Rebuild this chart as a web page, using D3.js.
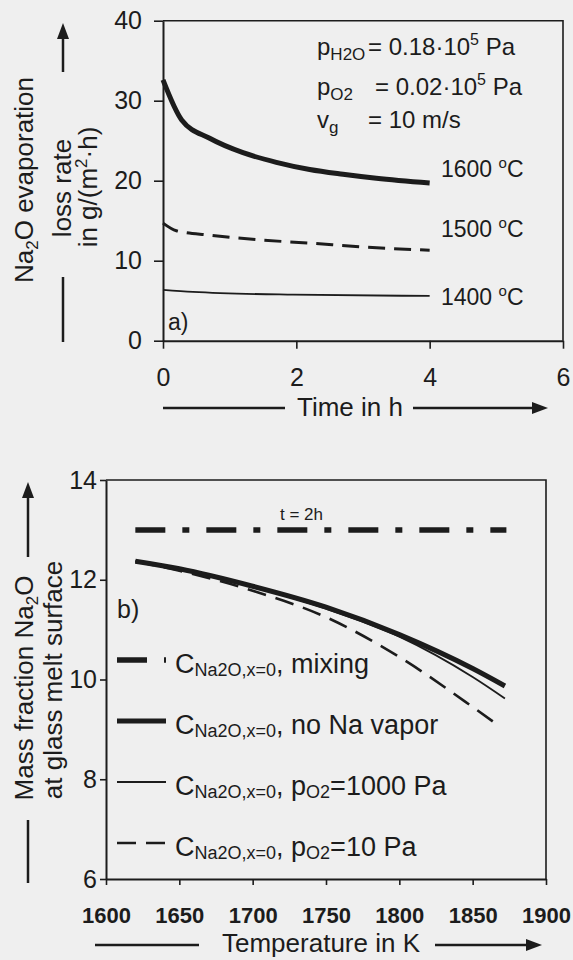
<!DOCTYPE html>
<html>
<head>
<meta charset="utf-8">
<script src="https://cdn.jsdelivr.net/npm/d3@7"></script>
<style>
  body { margin: 0; background: #efefef; }
  svg { display: block; font-family: "Liberation Sans", Arial, sans-serif; }
  .ink { fill: #1c1c1c; }
</style>
</head>
<body>
<svg id="chart" width="573" height="960"></svg>
<script>
// ---- panel a) data : Na2O evaporation loss rate vs time ----
var time1600 = [0, 0.28, 0.7, 1.2, 1.7, 2.2, 2.7, 3.2, 4.0];
var rate1600 = [32.6, 27.6, 25.3, 23.5, 22.3, 21.4, 20.8, 20.3, 19.7];
var time1500 = [0, 0.2, 0.7, 1.45, 2.2, 2.95, 4.0];
var rate1500 = [14.7, 13.75, 13.2, 12.6, 12.2, 11.75, 11.3];
var time1400 = [0, 0.45, 1.95, 4.0];
var rate1400 = [6.35, 6.1, 5.75, 5.6];
var timeTicks = [0, 2, 4, 6];
var rateTicks = [0, 10, 20, 30, 40];
var tempLabels = ["1600", "1500", "1400"];

// ---- panel b) data : mass fraction Na2O vs temperature ----
var tempsB = [1620, 1650, 1700, 1750, 1800, 1850, 1872];
var tempsB10 = [1620, 1650, 1700, 1750, 1800, 1850, 1868];
var tempsMix = [1620, 1873];
var mixing = [13, 13];
var noNaVapor = [12.37, 12.22, 11.87, 11.45, 10.9, 10.22, 9.87];
var pO2_1000 = [12.37, 12.22, 11.86, 11.42, 10.86, 10.05, 9.62];
var pO2_10 = [12.37, 12.18, 11.78, 11.25, 10.45, 9.45, 9.07];
var tempTicks = [1600, 1650, 1700, 1750, 1800, 1850, 1900];
var fracTicks = [6, 8, 10, 12, 14];
var legendNames = ["mixing", "no Na vapor", "pO2=1000", "pO2=10"];

var ink = "#1c1c1c";
var svg = d3.select("#chart");
svg.append("rect").attr("width", 573).attr("height", 960).attr("fill", "#efefef");

var styles = {
	"mixing": { width: 5.5, dash: "30,17,7,17" },
	"no Na vapor": { width: 5, dash: null },
	"pO2=1000": { width: 1.8, dash: null },
	"pO2=10": { width: 2.6, dash: "19,10" }
};

// ================= panel a =================
var xA = d3.scaleLinear().domain([0, 6]).range([163, 563]);
var yA = d3.scaleLinear().domain([0, 40]).range([340.7, 20.7]);

draw_frame(xA, yA);

svg.append("g")
	.attr("transform", "translate(0," + yA(0) + ")")
	.call(d3.axisBottom(xA).tickValues(timeTicks).tickFormat(d3.format("d")).tickSize(8).tickSizeOuter(0).tickPadding(20))
	.call(style_axis, 25, "normal");

svg.append("g")
	.attr("transform", "translate(" + xA(0) + ",0)")
	.call(d3.axisLeft(yA).tickValues(rateTicks).tickFormat(d3.format("d")).tickSize(9).tickSizeOuter(0).tickPadding(12))
	.call(style_axis, 25, "normal");

var lineA = d3.line().x(function(d) { return xA(d[0]); }).y(function(d) { return yA(d[1]); }).curve(d3.curveMonotoneX);

draw_curve(lineA, d3.zip(time1400, rate1400), 1.8, null);
draw_curve(lineA, d3.zip(time1500, rate1500), 3, "17,9");
draw_curve(lineA, d3.zip(time1600, rate1600), 5, null);

// temperature labels next to the curve ends
var labelY = [177, 237, 305];
tempLabels.forEach(function(t, i) {
	var txt = svg.append("text").attr("class", "ink").attr("x", 441).attr("y", labelY[i]).attr("font-size", 23);
	txt.append("tspan").text(t + " ");
	txt.append("tspan").attr("font-size", 15).attr("dy", -9).text("o");
	txt.append("tspan").attr("dy", 9).text("C");
});

// condition annotation
add_sub_text(317, 55, "p", "H2O", 24, 17);
add_sup_text(368, 55, "= 0.18·10", "5", " Pa", 24);
add_sub_text(317, 95, "p", "O2", 24, 17);
add_sup_text(375, 95, "= 0.02·10", "5", " Pa", 24);
add_sub_text(317, 128, "v", "g", 24, 17);
svg.append("text").attr("class", "ink").attr("x", 368).attr("y", 128).attr("font-size", 24).text("= 10 m/s");

svg.append("text").attr("class", "ink").attr("x", 168).attr("y", 330).attr("font-size", 23).text("a)");

// y title a
var ta = svg.append("text").attr("class", "ink").attr("font-size", 26).attr("text-anchor", "middle")
	.attr("transform", "translate(33,180) rotate(-90)");
ta.append("tspan").text("Na");
ta.append("tspan").attr("font-size", 17).attr("dy", 5).text("2");
ta.append("tspan").attr("dy", -5).text("O evaporation");
svg.append("text").attr("class", "ink").attr("font-size", 26).attr("text-anchor", "middle")
	.attr("transform", "translate(71,188) rotate(-90)").text("loss rate");
var tb = svg.append("text").attr("class", "ink").attr("font-size", 26).attr("text-anchor", "middle")
	.attr("transform", "translate(97,187) rotate(-90)");
tb.append("tspan").text("in g/(m");
tb.append("tspan").attr("font-size", 17).attr("dy", -10).text("2");
tb.append("tspan").attr("dy", 10).text("·h)");
v_arrow(63, 72, 23);
svg.append("line").attr("x1", 63).attr("x2", 63).attr("y1", 277).attr("y2", 342).attr("stroke", ink).attr("stroke-width", 2.5);

// x title a
svg.append("line").attr("x1", 163).attr("x2", 285).attr("y1", 408).attr("y2", 408).attr("stroke", ink).attr("stroke-width", 2.5);
svg.append("text").attr("class", "ink").attr("x", 350).attr("y", 416).attr("font-size", 26).attr("text-anchor", "middle").text("Time in h");
h_arrow(413, 548, 408);

// ================= panel b =================
var xB = d3.scaleLinear().domain([1600, 1900]).range([106, 546]);
var yB = d3.scaleLinear().domain([6, 14]).range([879, 480]);

draw_frame(xB, yB);

svg.append("g")
	.attr("transform", "translate(0," + yB(6) + ")")
	.call(d3.axisBottom(xB).tickValues(tempTicks).tickFormat(d3.format("d")).tickSize(6).tickSizeOuter(0).tickPadding(22))
	.call(style_axis, 22, "bold");

svg.append("g")
	.attr("transform", "translate(" + xB(1600) + ",0)")
	.call(d3.axisLeft(yB).tickValues(fracTicks).tickFormat(d3.format("d")).tickSize(6).tickSizeOuter(0).tickPadding(3))
	.call(style_axis, 25, "normal");

var lineB = d3.line().x(function(d) { return xB(d[0]); }).y(function(d) { return yB(d[1]); }).curve(d3.curveMonotoneX);

draw_curve(lineB, d3.zip(tempsB10, pO2_10), styles["pO2=10"].width, styles["pO2=10"].dash);
draw_curve(lineB, d3.zip(tempsB, pO2_1000), styles["pO2=1000"].width, null);
draw_curve(lineB, d3.zip(tempsB, noNaVapor), styles["no Na vapor"].width, null);
draw_curve(lineB, d3.zip(tempsMix, mixing), styles["mixing"].width, styles["mixing"].dash);

svg.append("text").attr("class", "ink").attr("x", 280).attr("y", 520).attr("font-size", 17).text("t = 2h");
svg.append("text").attr("class", "ink").attr("x", 117).attr("y", 618).attr("font-size", 25).text("b)");

// legend
legendNames.forEach(function(name, i) {
	var ly = 660 + i * 61;
	var st = styles[name];
	svg.append("line").attr("x1", 117).attr("x2", 166).attr("y1", ly).attr("y2", ly)
		.attr("stroke", ink).attr("stroke-width", st.width)
		.attr("stroke-dasharray", st.dash);
	var txt = svg.append("text").attr("class", "ink").attr("x", 175).attr("y", ly + 13).attr("font-size", 27);
	txt.append("tspan").text("C");
	txt.append("tspan").attr("font-size", 18).attr("dy", 3).text("Na2O,x=0");
	txt.append("tspan").attr("dy", -3).text(", ");
	if (name.indexOf("pO2") === 0) {
		txt.append("tspan").text("p");
		txt.append("tspan").attr("font-size", 18).attr("dy", 3).text("O2");
		txt.append("tspan").attr("dy", -3).text("=" + name.split("=")[1] + " Pa");
	} else {
		txt.append("tspan").text(name);
	}
});

// y title b
var tc = svg.append("text").attr("class", "ink").attr("font-size", 26).attr("text-anchor", "middle")
	.attr("transform", "translate(33,688) rotate(-90)");
tc.append("tspan").text("Mass fraction  Na");
tc.append("tspan").attr("font-size", 17).attr("dy", 5).text("2");
tc.append("tspan").attr("dy", -5).text("O");
svg.append("text").attr("class", "ink").attr("font-size", 26).attr("text-anchor", "middle")
	.attr("transform", "translate(62,680) rotate(-90)").text("at glass melt surface");
v_arrow(28, 557, 482);
svg.append("line").attr("x1", 28).attr("x2", 28).attr("y1", 820).attr("y2", 883).attr("stroke", ink).attr("stroke-width", 2.5);

// x title b
svg.append("line").attr("x1", 95).attr("x2", 199).attr("y1", 945).attr("y2", 945).attr("stroke", ink).attr("stroke-width", 2.5);
svg.append("text").attr("class", "ink").attr("x", 321).attr("y", 952).attr("font-size", 26).attr("text-anchor", "middle").text("Temperature in K");
h_arrow(435, 542, 945);

// ---------- helpers ----------
function draw_frame(x, y) {
	var x0 = x.range()[0], x1 = x.range()[1], y0 = y.range()[0], y1 = y.range()[1];
	svg.append("path")
		.attr("d", "M" + x0 + "," + y1 + "H" + x1 + "V" + y0)
		.attr("fill", "none").attr("stroke", ink).attr("stroke-width", 1.6);
}

function style_axis(g, size, weight) {
	g.select(".domain").attr("stroke", ink).attr("stroke-width", 2);
	g.selectAll(".tick line").attr("stroke", ink).attr("stroke-width", 1.6);
	g.selectAll(".tick text")
		.attr("fill", ink)
		.attr("font-size", size)
		.attr("font-weight", weight)
		.attr("font-family", "Liberation Sans, Arial, sans-serif");
}

function draw_curve(line, pts, width, dash) {
	svg.append("path")
		.attr("d", line(pts))
		.attr("fill", "none")
		.attr("stroke", ink)
		.attr("stroke-width", width)
		.attr("stroke-dasharray", dash);
}

function add_sub_text(x, y, main, sub, size, subSize) {
	var t = svg.append("text").attr("class", "ink").attr("x", x).attr("y", y).attr("font-size", size);
	t.append("tspan").text(main);
	t.append("tspan").attr("font-size", subSize).attr("dy", 5).text(sub);
}

function add_sup_text(x, y, main, sup, rest, size) {
	var t = svg.append("text").attr("class", "ink").attr("x", x).attr("y", y).attr("font-size", size);
	t.append("tspan").text(main);
	t.append("tspan").attr("font-size", 16).attr("dy", -10).text(sup);
	t.append("tspan").attr("dy", 10).text(rest);
}

function v_arrow(x, yFrom, yTip) {
	svg.append("line").attr("x1", x).attr("x2", x).attr("y1", yFrom).attr("y2", yTip + 12)
		.attr("stroke", ink).attr("stroke-width", 2.5);
	svg.append("path").attr("d", "M" + x + "," + yTip + "L" + (x - 6) + "," + (yTip + 16) + "L" + (x + 6) + "," + (yTip + 16) + "Z")
		.attr("fill", ink);
}

function h_arrow(xFrom, xTip, y) {
	svg.append("line").attr("x1", xFrom).attr("x2", xTip - 12).attr("y1", y).attr("y2", y)
		.attr("stroke", ink).attr("stroke-width", 2.5);
	svg.append("path").attr("d", "M" + xTip + "," + y + "L" + (xTip - 16) + "," + (y - 6) + "L" + (xTip - 16) + "," + (y + 6) + "Z")
		.attr("fill", ink);
}
</script>
</body>
</html>
